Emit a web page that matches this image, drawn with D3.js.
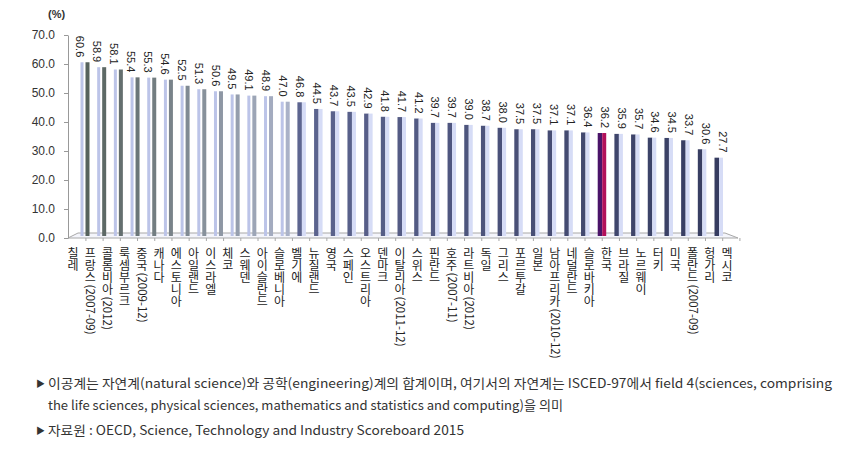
<!DOCTYPE html>
<html>
<head>
<meta charset="utf-8">
<script src="https://cdn.jsdelivr.net/npm/d3@7"></script>
<style>
  body { margin: 0; background: #fff; }
  svg { display: block; font-family: "Liberation Sans", Arial, sans-serif; }
</style>
</head>
<body>
<svg width="847" height="459"></svg>
<script>
const categories = ['칠레', '프랑스(2007-09)', '콜롬비아(2012)', '룩셈부르크', '중국(2009-12)', '캐나다', '에스토니아',
  '아일랜드', '이스라엘', '체코', '스웨덴', '아이슬란드', '슬로베니아', '벨기에', '뉴질랜드', '영국', '스페인',
  '오스트리아', '덴마크', '이탈리아(2011-12)', '스위스', '핀란드', '호주(2007-11)', '라트비아(2012)', '독일', '그리스',
  '포르투갈', '일본', '남아프리카(2010-12)', '네덜란드', '슬로바키아', '한국', '브라질', '노르웨이', '터키', '미국',
  '폴란드(2007-09)', '헝가리', '멕시코'];
const values = [60.6, 58.9, 58.1, 55.4, 55.3, 54.6, 52.5, 51.3, 50.6, 49.5, 49.1, 48.9, 47.0, 46.8, 44.5, 43.7, 43.5,
  42.9, 41.8, 41.7, 41.2, 39.7, 39.7, 39.0, 38.7, 38.0, 37.5, 37.5, 37.1, 37.1, 36.4, 36.2, 35.9, 35.7, 34.6, 34.5,
  33.7, 30.6, 27.7];
const yTicks = [0, 10, 20, 30, 40, 50, 60, 70];
const highlight = '한국';
const footnotes = [
  '이공계는 자연계(natural science)와 공학(engineering)계의 합계이며, 여기서의 자연계는 ISCED-97에서 field 4(sciences, comprising',
  'the life sciences, physical sciences, mathematics and statistics and computing)을 의미',
  '자료원 : OECD, Science, Technology and Industry Scoreboard 2015'
];

const data = categories.map((c, i) => ({ name: c, value: values[i], i }));

const svg = d3.select('svg');

const y = d3.scaleLinear().domain([0, 70]).range([238, 35]);
// front (labels), back (bars) and value label positions differ a little: fake 3d
const xLabel = d3.scalePoint().domain(categories).range([73, 727]);
const xBar = d3.scalePoint().domain(categories).range([85, 719]);
const xVal = d3.scalePoint().domain(categories).range([80, 723]);

// unit
svg.append('text')
  .attr('x', 48).attr('y', 18)
  .attr('font-size', 11).attr('font-weight', 'bold').attr('fill', '#333')
  .text('(%)');

// floor
svg.append('path')
  .attr('d', 'M68,238 L78,233 L725,233 L738,238 Z')
  .attr('fill', '#f4f5fb')
  .attr('stroke', '#a8a8a8')
  .attr('stroke-width', 1);

// y axis
const yAxis = svg.append('g')
  .attr('transform', 'translate(68,0)')
  .call(d3.axisLeft(y).tickValues(yTicks).tickFormat(d3.format('.1f')).tickSize(4).tickSizeOuter(0).tickPadding(9));
yAxis.select('.domain').attr('stroke', '#999');
yAxis.selectAll('.tick line').attr('stroke', '#999');
yAxis.selectAll('.tick text').attr('font-size', 12).attr('fill', '#333')
  .attr('font-family', '"Liberation Sans", Arial, sans-serif');

// x ticks
svg.selectAll('.xtick')
  .data(data)
  .enter()
  .append('line')
  .attr('class', 'xtick')
  .attr('x1', d => xLabel(d.name) + xLabel.step() * 0.75)
  .attr('x2', d => xLabel(d.name) + xLabel.step() * 0.75)
  .attr('y1', 238).attr('y2', 241)
  .attr('stroke', '#a8a8a8');

// bars: two strips each, colours shift from left to right
const leftCol = i => i <= 12 ? '#bcc4e8' : d3.interpolateRgb('#5d6590', '#363c60')((i - 13) / 25);
const rightCol = i => i <= 12 ? d3.interpolateRgb('#56625d', '#aab2c8')(i / 12) : '#d6dcf6';

const bars = svg.selectAll('.bar')
  .data(data)
  .enter()
  .append('g')
  .attr('class', 'bar');

bars.append('rect')
  .attr('x', d => xBar(d.name) - 4.5)
  .attr('y', d => y(d.value))
  .attr('width', d => d.i <= 12 ? 3 : 4.5)
  .attr('height', d => 236 - y(d.value))
  .attr('fill', d => d.name === highlight ? '#4a1468' : leftCol(d.i));

bars.append('rect')
  .attr('x', d => d.i <= 12 ? xBar(d.name) + 0.5 : xBar(d.name))
  .attr('y', d => y(d.value))
  .attr('width', 4)
  .attr('height', d => 236 - y(d.value))
  .attr('fill', d => d.name === highlight ? '#b2105a' : rightCol(d.i));

// value labels
svg.selectAll('.val')
  .data(data)
  .enter()
  .append('text')
  .attr('class', 'val')
  .attr('transform', d => `translate(${xVal(d.name)},${y(d.value) - 5}) rotate(90)`)
  .attr('text-anchor', 'end')
  .attr('dy', '0.35em')
  .attr('font-size', 11)
  .attr('fill', '#222')
  .text(d => d.value.toFixed(1));

// category labels: hangul stacked upright, bracket part turned sideways
const labTop = 247;
const chStep = 12;
const lab = svg.selectAll('.lab')
  .data(data)
  .enter()
  .append('g')
  .attr('class', 'lab')
  .attr('transform', d => `translate(${xLabel(d.name)},${labTop})`)
  .attr('font-family', '"Noto Sans CJK KR", sans-serif')
  .attr('font-size', 12)
  .attr('fill', '#222');

lab.append('text')
  .attr('x', 0)
  .attr('y', 0)
  .style('writing-mode', 'vertical-rl')
  .style('text-orientation', 'upright')
  .text(d => d.name.split('(')[0]);

lab.filter(d => d.name.includes('('))
  .append('text')
  .attr('transform', d => `translate(0,${d.name.split('(')[0].length * chStep + 1.5}) rotate(90)`)
  .attr('dy', '0.35em')
  .attr('font-size', 11.5)
  .text(d => '(' + d.name.split('(')[1]);

// footnotes
const notes = svg.append('g')
  .attr('font-family', '"Noto Sans CJK KR", sans-serif')
  .attr('font-size', 13)
  .attr('fill', '#333');
const noteY = [388, 410, 435];
const noteLen = [784, 515, 416];
notes.selectAll('.note')
  .data(footnotes)
  .enter()
  .append('text')
  .attr('class', 'note')
  .attr('x', 48)
  .attr('y', (d, i) => noteY[i])
  .attr('textLength', (d, i) => noteLen[i])
  .attr('lengthAdjust', 'spacingAndGlyphs')
  .text(d => d);
notes.selectAll('.arrow')
  .data([0, 2])
  .enter()
  .append('text')
  .attr('class', 'arrow')
  .attr('x', 36)
  .attr('y', i => noteY[i] - 1)
  .attr('font-size', 9)
  .text('▶');
</script>
</body>
</html>
